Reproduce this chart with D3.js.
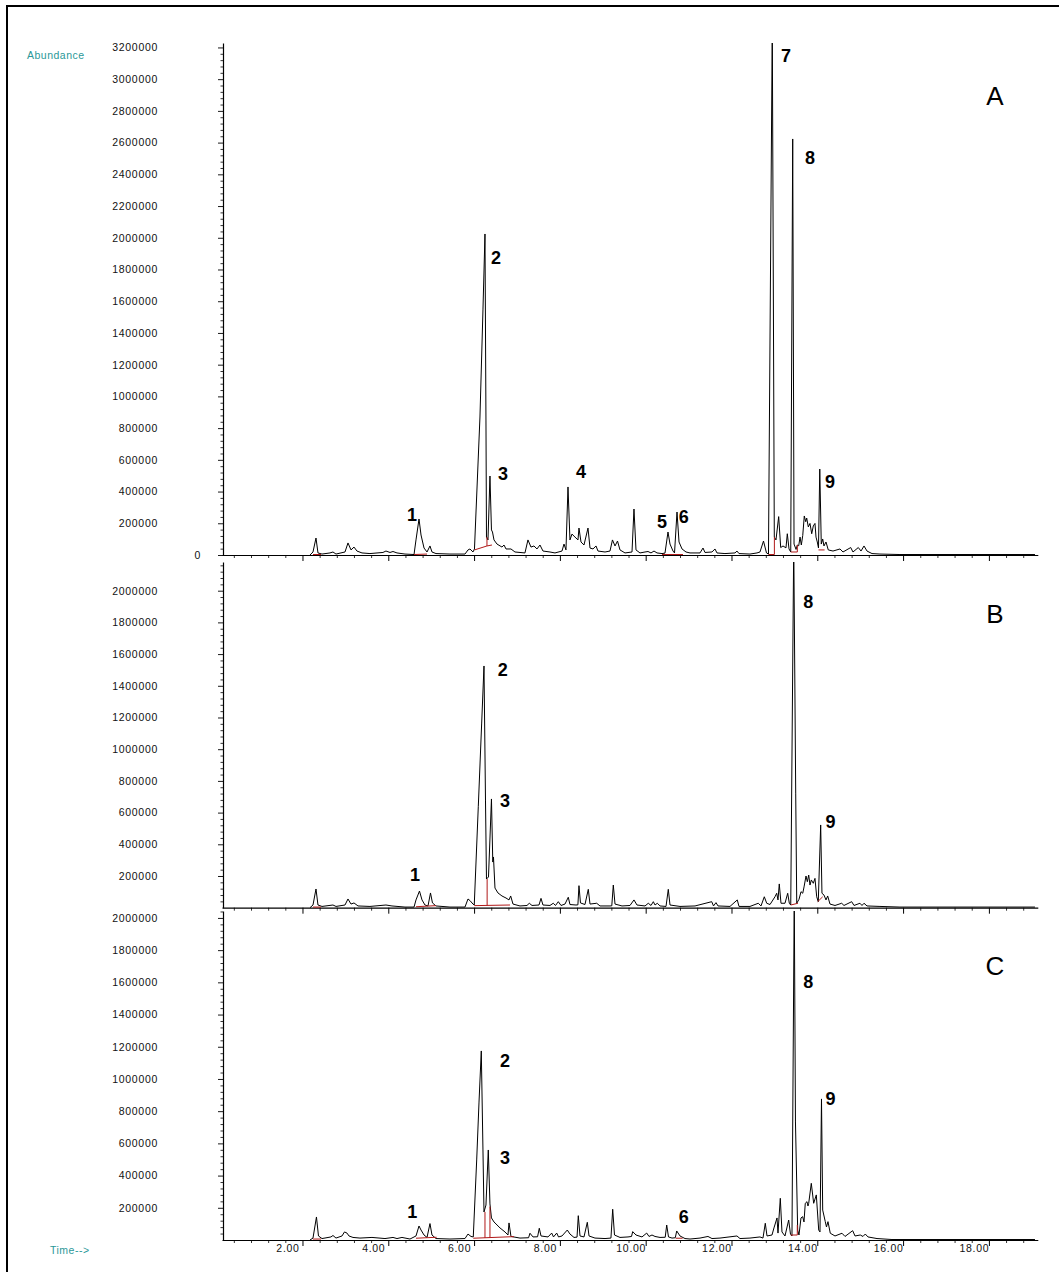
<!DOCTYPE html>
<html><head><meta charset="utf-8">
<script src="https://cdn.jsdelivr.net/npm/d3@7"></script>
<style>
html,body{margin:0;padding:0;background:#fff;}
svg{display:block;}
text{font-family:"Liberation Sans",Arial,sans-serif;}
</style></head><body>
<svg id="chart" width="1059" height="1272"></svg>
<script>
// ---------- DATA (time in min, abundance in counts) ----------
const traceA = [[2.175,0],[2.245,19000],[2.315,107000],[2.361,13000],[2.455,6000],[2.641,13000],[2.711,19000],[2.781,6000],[2.991,19000],[3.061,76000],[3.131,32000],[3.201,50000],[3.270,25000],[3.387,13000],[3.573,9000],[3.876,16000],[3.946,25000],[4.040,16000],[4.110,22000],[4.203,13000],[4.390,6000],[4.600,3000],[4.646,95000],[4.716,227000],[4.763,126000],[4.833,44000],[4.903,19000],[4.972,57000],[5.019,19000],[5.112,9000],[5.438,6000],[5.788,6000],[5.858,32000],[5.904,38000],[5.974,19000],[6.009,38000],[6.137,870000],[6.207,1545000],[6.254,2024000],[6.277,851000],[6.289,113000],[6.324,95000],[6.370,498000],[6.405,158000],[6.429,145000],[6.464,95000],[6.534,69000],[6.650,50000],[6.697,63000],[6.744,38000],[6.860,38000],[6.953,19000],[7.186,13000],[7.256,95000],[7.326,50000],[7.396,57000],[7.466,38000],[7.536,63000],[7.606,25000],[7.769,19000],[7.886,13000],[8.049,25000],[8.096,69000],[8.142,32000],[8.189,429000],[8.235,95000],[8.282,132000],[8.352,113000],[8.422,95000],[8.445,170000],[8.492,82000],[8.562,63000],[8.655,170000],[8.702,44000],[8.772,38000],[8.842,57000],[8.888,25000],[9.052,19000],[9.168,25000],[9.226,95000],[9.285,57000],[9.343,88000],[9.401,32000],[9.518,13000],[9.681,19000],[9.727,290000],[9.774,32000],[9.867,13000],[9.984,19000],[10.054,22000],[10.124,13000],[10.194,25000],[10.264,13000],[10.380,9000],[10.450,12000],[10.520,145000],[10.567,69000],[10.637,25000],[10.672,13000],[10.730,271000],[10.777,82000],[10.847,38000],[10.940,19000],[11.033,13000],[11.266,13000],[11.336,44000],[11.382,16000],[11.545,19000],[11.615,38000],[11.662,13000],[11.848,9000],[12.082,13000],[12.128,25000],[12.175,9000],[12.431,6000],[12.594,13000],[12.664,19000],[12.746,88000],[12.816,13000],[12.862,6000],[12.951,3350000],[12.998,113000],[13.037,95000],[13.100,242000],[13.147,47000],[13.201,57000],[13.270,45000],[13.301,134000],[13.341,38000],[13.381,19000],[13.427,2623000],[13.458,69000],[13.505,35000],[13.535,63000],[13.567,58000],[13.598,113000],[13.628,63000],[13.661,123000],[13.697,246000],[13.730,210000],[13.753,233000],[13.791,177000],[13.830,199000],[13.870,134000],[13.907,183000],[13.946,199000],[13.970,113000],[14.000,82000],[14.028,44000],[14.058,542000],[14.093,69000],[14.126,101000],[14.156,57000],[14.203,82000],[14.256,32000],[14.366,25000],[14.529,38000],[14.599,19000],[14.779,47000],[14.832,19000],[14.956,47000],[15.019,25000],[15.089,57000],[15.159,25000],[15.275,9000],[15.461,6000],[15.927,3000],[19.074,3000]];

const traceB = [[2.175,0],[2.245,17000],[2.315,118000],[2.361,17000],[2.455,8000],[2.711,17000],[2.781,8000],[2.991,17000],[3.061,55000],[3.131,23000],[3.201,30000],[3.294,11000],[3.573,8000],[3.946,17000],[4.086,11000],[4.390,4000],[4.600,4000],[4.646,49000],[4.727,105000],[4.786,49000],[4.855,17000],[4.926,11000],[4.984,93000],[5.030,30000],[5.112,11000],[5.438,4000],[5.788,4000],[5.858,55000],[5.904,45000],[5.974,23000],[6.004,17000],[6.098,637000],[6.177,1165000],[6.231,1525000],[6.266,679000],[6.289,181000],[6.336,194000],[6.405,686000],[6.436,288000],[6.452,320000],[6.487,124000],[6.557,93000],[6.650,74000],[6.744,61000],[6.814,49000],[6.853,74000],[6.907,23000],[7.070,11000],[7.233,14000],[7.287,28000],[7.350,14000],[7.513,17000],[7.560,59000],[7.606,17000],[7.769,14000],[7.846,28000],[7.898,14000],[7.963,38000],[8.026,14000],[8.119,23000],[8.196,66000],[8.235,20000],[8.375,17000],[8.420,18000],[8.445,139000],[8.480,30000],[8.585,20000],[8.662,116000],[8.702,23000],[8.858,28000],[8.935,11000],[9.168,11000],[9.210,12000],[9.245,143000],[9.285,23000],[9.448,11000],[9.634,14000],[9.727,49000],[9.797,17000],[9.984,11000],[10.061,28000],[10.124,14000],[10.178,38000],[10.218,17000],[10.271,28000],[10.334,11000],[10.474,8000],[10.527,116000],[10.567,17000],[10.800,8000],[11.150,11000],[11.539,38000],[11.581,11000],[11.639,32000],[11.686,11000],[11.965,8000],[12.135,49000],[12.175,8000],[12.431,8000],[12.625,28000],[12.688,11000],[12.765,69000],[12.821,28000],[12.898,20000],[13.014,69000],[13.054,91000],[13.084,49000],[13.114,150000],[13.154,28000],[13.247,28000],[13.310,91000],[13.348,28000],[13.381,17000],[13.451,2300000],[13.497,723000],[13.521,28000],[13.574,53000],[13.621,101000],[13.661,91000],[13.691,131000],[13.737,200000],[13.768,164000],[13.800,206000],[13.830,143000],[13.861,175000],[13.907,154000],[13.946,185000],[13.986,69000],[14.023,38000],[14.079,522000],[14.109,91000],[14.156,80000],[14.203,49000],[14.242,74000],[14.296,23000],[14.413,14000],[14.569,28000],[14.622,14000],[14.802,38000],[14.856,14000],[14.995,28000],[15.042,14000],[15.089,28000],[15.159,11000],[15.461,8000],[15.927,4000],[19.074,4000]];

const traceC = [[2.175,0],[2.245,12000],[2.326,143000],[2.373,25000],[2.455,9000],[2.664,19000],[2.711,28000],[2.781,12000],[2.921,25000],[2.979,50000],[3.037,43000],[3.084,25000],[3.177,16000],[3.340,12000],[3.620,16000],[3.923,9000],[4.110,16000],[4.203,9000],[4.319,16000],[4.506,6000],[4.646,25000],[4.716,87000],[4.763,62000],[4.833,31000],[4.903,16000],[4.972,102000],[5.019,31000],[5.112,9000],[5.438,6000],[5.788,9000],[5.858,37000],[5.928,22000],[5.981,19000],[6.061,497000],[6.114,851000],[6.168,1174000],[6.207,559000],[6.231,174000],[6.277,217000],[6.331,559000],[6.370,224000],[6.405,137000],[6.464,112000],[6.604,75000],[6.720,50000],[6.790,31000],[6.814,106000],[6.860,22000],[7.070,12000],[7.270,14000],[7.303,42000],[7.373,19000],[7.480,20000],[7.520,73000],[7.560,25000],[7.723,19000],[7.809,43000],[7.851,19000],[7.926,43000],[7.968,19000],[8.049,25000],[8.173,62000],[8.235,37000],[8.329,16000],[8.400,18000],[8.429,151000],[8.469,25000],[8.562,19000],[8.639,110000],[8.679,25000],[8.818,12000],[9.052,9000],[9.190,12000],[9.231,191000],[9.273,31000],[9.401,16000],[9.588,19000],[9.670,22000],[9.697,52000],[9.774,31000],[9.914,19000],[10.024,43000],[10.077,22000],[10.147,31000],[10.217,22000],[10.334,16000],[10.455,17000],[10.490,93000],[10.532,19000],[10.614,12000],[10.690,14000],[10.723,56000],[10.800,25000],[10.916,9000],[11.033,6000],[11.266,12000],[11.452,22000],[11.545,9000],[11.732,12000],[12.128,25000],[12.198,9000],[12.431,12000],[12.664,19000],[12.734,12000],[12.788,104000],[12.828,25000],[12.944,31000],[12.990,75000],[13.061,137000],[13.084,43000],[13.138,259000],[13.177,50000],[13.247,25000],[13.333,124000],[13.375,37000],[13.410,25000],[13.463,2150000],[13.491,733000],[13.543,62000],[13.573,31000],[13.620,137000],[13.659,145000],[13.690,112000],[13.720,228000],[13.760,238000],[13.783,211000],[13.800,228000],[13.860,352000],[13.916,228000],[13.977,280000],[14.033,62000],[14.063,50000],[14.098,876000],[14.126,186000],[14.186,114000],[14.214,81000],[14.249,114000],[14.303,42000],[14.413,25000],[14.576,42000],[14.646,22000],[14.825,58000],[14.879,25000],[15.002,31000],[15.065,22000],[15.119,37000],[15.182,19000],[15.392,9000],[15.741,3000],[19.074,3000]];

// integration baselines (red)
const baselinesA = [
  [[2.245,3000],[2.432,3000]],
  [[4.600,3000],[4.903,6000]],
  [[6.009,32000],[6.300,57000],[6.417,63000]],
  [[6.300,57000],[6.300,113000]],
  [[10.380,3000],[10.870,3000]],
  [[12.862,3000],[13.000,3000],[13.000,113000]],
  [[13.381,19000],[13.535,19000],[13.535,63000]],
  [[14.028,32000],[14.170,32000]]
];
const baselinesB = [
  [[2.245,4000],[2.432,4000]],
  [[4.646,6000],[5.112,13000]],
  [[6.004,13000],[6.837,17000]],
  [[6.304,15000],[6.304,181000]],
  [[13.381,17000],[13.550,28000]],
  [[14.010,38000],[14.126,69000]]
];
const baselinesC = [
  [[2.245,6000],[2.432,6000]],
  [[4.646,11000],[5.128,17000]],
  [[5.981,11000],[6.930,21000]],
  [[6.254,13000],[6.254,174000]],
  [[6.370,14000],[6.370,207000]],
  [[10.700,11000],[10.860,11000]],
  [[13.380,31000],[13.534,31000],[13.534,93000]]
];

// peak number labels: text, anchor time, anchor abundance
const peakTextA = ["1","2","3","4","5","6","7","8","9"];
const peakTimeA = [4.553,6.510,6.674,8.492,10.38,10.89,13.269,13.83,14.297];
const peakAbundA = [252000,1873000,511000,523000,208000,240000,3146000,2503000,460000];
const peakTextB = ["1","2","3","8","9"];
const peakTimeB = [4.622,6.667,6.720,13.79,14.31];
const peakAbundB = [206000,1500000,675000,1931000,542000];
const peakTextC = ["1","2","3","6","8","9"];
const peakTimeC = [4.560,6.720,6.720,10.89,13.79,14.31];
const peakAbundC = [176000,1114000,507000,145000,1604000,874000];

const panelNames = ["A","B","C"];
const yMaxA = 3228000, yMaxB = 2181000, yMaxC = 2043000;
const yTicksA = [0,200000,400000,600000,800000,1000000,1200000,1400000,1600000,1800000,2000000,2200000,2400000,2600000,2800000,3000000,3200000];
const yTicksB = [200000,400000,600000,800000,1000000,1200000,1400000,1600000,1800000,2000000];
const yTicksC = [200000,400000,600000,800000,1000000,1200000,1400000,1600000,1800000,2000000];
const timeDomain = [0.124, 19.14];
const timeMajor = [2,4,6,8,10,12,14,16,18];
const timeMinorStep = 0.4;

// ---------- DRAW ----------
const svg = d3.select("#chart");
const W = 1059, H = 1272;
svg.append("rect").attr("width",W).attr("height",H).attr("fill","#fff");
svg.append("path").attr("d","M7,1272 L7,6 L1059,6").attr("fill","none").attr("stroke","#000").attr("stroke-width",2);

const axisX = 223, rightX = 1038;
const x = d3.scaleLinear().domain(timeDomain).range([222, 1037.8]);
const teal = "#2a9898";
const tickFont = 10.5, tickSpacing = 0.7;

const panels = [
  {name:panelNames[0], top:43, bottom:555, yMax:yMaxA, ticks:yTicksA, trace:traceA, base:baselinesA, lt:peakTextA, lx:peakTimeA, ly:peakAbundA, showX:false, ly0:96},
  {name:panelNames[1], top:562, bottom:907.7, yMax:yMaxB, ticks:yTicksB, trace:traceB, base:baselinesB, lt:peakTextB, lx:peakTimeB, ly:peakAbundB, showX:false, ly0:614},
  {name:panelNames[2], top:911, bottom:1240, yMax:yMaxC, ticks:yTicksC, trace:traceC, base:baselinesC, lt:peakTextC, lx:peakTimeC, ly:peakAbundC, showX:true, ly0:966}
];

const minorTimes = d3.range(1, 48).map(i => +(i*timeMinorStep).toFixed(2)).filter(t => t>timeDomain[0] && t<timeDomain[1] && !timeMajor.some(m=>Math.abs(m-t)<1e-6));

panels.forEach((p, i) => {
  const y = d3.scaleLinear().domain([0, p.yMax]).range([p.bottom, p.top]);
  const g = svg.append("g");
  const clipId = "clip"+i;
  svg.append("clipPath").attr("id",clipId).append("rect")
    .attr("x",axisX).attr("y",p.top).attr("width",rightX-axisX+2).attr("height",p.bottom-p.top+1);

  const minorY = d3.range(0, p.yMax, 40000).filter(v => v % 200000 !== 0);
  g.append("g").attr("transform",`translate(${axisX},0)`)
    .call(d3.axisLeft(y).tickValues(minorY).tickSize(2.5).tickSizeOuter(0).tickFormat(""))
    .call(s => s.select(".domain").remove())
    .call(s => s.selectAll("line").attr("stroke","#000").attr("stroke-width",0.8));
  const ya = g.append("g").attr("transform",`translate(${axisX},0)`)
    .call(d3.axisLeft(y).tickValues(p.ticks).tickSize(5).tickSizeOuter(0).tickPadding(60).tickFormat(d3.format("d")));
  ya.select(".domain").attr("stroke","#000").attr("stroke-width",1.2);
  ya.selectAll("line").attr("stroke","#000").attr("stroke-width",0.9);
  ya.selectAll("text").attr("font-size",tickFont).attr("letter-spacing",tickSpacing).attr("fill","#111");
  ya.selectAll(".tick").filter(d => d === 0).select("text").attr("x",-22);

  const xg = g.append("g").attr("transform",`translate(0,${p.bottom})`);
  xg.append("g").call(d3.axisBottom(x).tickValues(minorTimes).tickSize(3).tickSizeOuter(0).tickFormat(""))
    .call(s => s.selectAll("line").attr("stroke","#000").attr("stroke-width",0.8))
    .call(s => s.select(".domain").attr("stroke","#000").attr("stroke-width",1.2));
  const xa = xg.append("g").call(d3.axisBottom(x).tickValues(timeMajor).tickSize(6).tickSizeOuter(0).tickPadding(4)
      .tickFormat(p.showX ? d3.format(".2f") : ""));
  xa.select(".domain").remove();
  xa.selectAll("line").attr("stroke","#000").attr("stroke-width",1);
  xa.selectAll("text").attr("x",-15).attr("y",5).attr("font-size",tickFont).attr("letter-spacing",tickSpacing).attr("fill","#111");

  const line = d3.line().x(d => x(d[0])).y(d => y(d[1]));
  g.append("path").datum(p.trace).attr("clip-path",`url(#${clipId})`)
    .attr("d",line).attr("fill","none").attr("stroke","#000").attr("stroke-width",1).attr("stroke-linejoin","miter");
  g.selectAll(".bl").data(p.base).join("path").attr("class","bl")
    .attr("d",line).attr("fill","none").attr("stroke","#b01818").attr("stroke-width",1);
  g.selectAll(".pk").data(p.lt).join("text").attr("class","pk")
    .attr("x",(d,k) => x(p.lx[k])).attr("y",(d,k) => y(p.ly[k]))
    .attr("text-anchor","middle").attr("dominant-baseline","central")
    .attr("font-size",18).attr("font-weight","bold").attr("fill","#000").text(d => d);
  g.append("text").attr("x",995).attr("y",p.ly0).attr("text-anchor","middle")
    .attr("dominant-baseline","central").attr("font-size",26).attr("fill","#000").text(p.name);
});

svg.append("text").attr("x",27).attr("y",55).attr("dominant-baseline","central")
  .attr("font-size",tickFont).attr("letter-spacing",0.5).attr("fill",teal).text("Abundance");
svg.append("text").attr("x",50).attr("y",1250).attr("dominant-baseline","central")
  .attr("font-size",tickFont).attr("letter-spacing",0.5).attr("fill",teal).text("Time-->");
</script></body></html>
